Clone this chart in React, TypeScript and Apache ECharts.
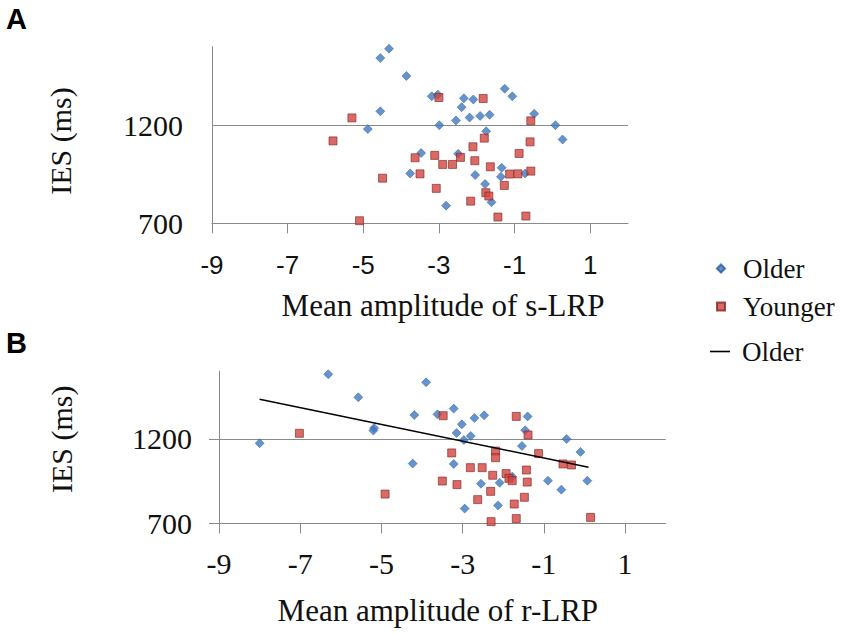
import React, { useEffect, useRef } from 'react';
import * as echarts from 'echarts';

// Tick values
const xTicks = [-9, -7, -5, -3, -1, 1];
const yTicks = [700, 1200];

// Panel A (s-LRP)
const sOlderX = [-4.32, -4.55, -3.86, -3.19, -3.03, -2.34, -2.09, -2.40, -4.55, -2.55, -2.19, -1.91, -1.66, -1.26, -1.06, -0.48, 0.08, 0.27, -4.88, -2.99, -1.75, -3.47, -2.49, -3.76, -2.04, -1.34, -1.36, -0.72, -1.78, -1.61, -2.81];
const sOlderY = [1590, 1542, 1451, 1347, 1356, 1337, 1331, 1292, 1271, 1224, 1239, 1247, 1253, 1386, 1347, 1258, 1200, 1127, 1180, 1200, 1169, 1058, 1054, 954, 946, 983, 937, 954, 900, 807, 790];
const sYoungerX = [-5.30, -5.80, -4.49, -5.10, -3.00, -1.83, -0.57, -1.80, -0.59, -2.10, -3.63, -3.11, -2.43, -0.88, -2.90, -2.64, -2.05, -1.64, -3.50, -1.13, -0.91, -0.57, -3.07, -1.27, -1.76, -1.68, -2.16, -1.44, -0.70];
const sYoungerY = [1237, 1120, 930, 713, 1341, 1336, 1222, 1134, 1115, 1090, 1034, 1046, 1036, 1056, 1000, 1000, 1019, 988, 952, 951, 952, 966, 878, 893, 856, 839, 813, 732, 737];

// Panel B (r-LRP)
const rOlderX = [-6.31, -3.90, -5.57, -4.19, -3.62, -3.22, -2.71, -2.47, -1.40, -3.02, -5.18, -5.20, -3.15, -2.80, -2.97, -1.46, -8.00, -1.54, -0.44, -0.10, -4.23, -3.22, -1.78, -2.55, -2.09, -0.90, 0.07, -0.57, -2.13, -2.95];
const rOlderY = [1582, 1534, 1446, 1341, 1345, 1379, 1323, 1339, 1333, 1286, 1264, 1249, 1235, 1217, 1193, 1251, 1174, 1158, 1199, 1123, 1054, 1052, 977, 935, 941, 953, 953, 900, 807, 788];
const rYoungerX = [-7.02, -4.91, -3.48, -1.68, -1.39, -3.27, -2.19, -2.19, -1.13, -0.53, -0.32, -2.81, -2.52, -1.43, -2.26, -1.93, -1.86, -1.78, -3.50, -3.14, -1.41, -2.31, -1.48, -2.63, -1.73, -2.30, -1.68, 0.15];
const rYoungerY = [1233, 874, 1337, 1333, 1223, 1117, 1128, 1089, 1113, 1052, 1046, 1030, 1030, 1016, 985, 995, 967, 953, 951, 930, 945, 890, 855, 841, 815, 711, 729, 736];

// Older trend line (panel B) endpoints
const trendX = [-8.0, 0.1];
const trendY = [1434, 1033];

const zip = (xs: number[], ys: number[]) => xs.map((x, i) => [x, ys[i]]);

const SERIF = '"Liberation Serif", "Times New Roman", serif';
const SANS = '"Liberation Sans", Arial, sans-serif';
const AXIS_COLOR = '#8a8a8a';
const BLUE = '#3F78C0';
const BLUE_BORDER = '#2A5A98';
const RED = '#D2433F';
const RED_BORDER = '#7E2522';

export default function App() {
  const ref = useRef<HTMLDivElement>(null);

  useEffect(() => {
    document.body.style.margin = '0';
    if (!ref.current) return;
    const chart = echarts.init(ref.current, undefined, { renderer: 'svg' });

    const plain = (v: number) => String(v);

    const makeX = (gridIndex: number, name: string, labelFont: string, labelSize: number, margin: number, nameGap: number, namePad: number[], nameSize: number) => ({
      gridIndex,
      type: 'value',
      min: -9,
      max: 2,
      name,
      nameLocation: 'middle',
      nameGap,
      nameTextStyle: { fontFamily: SERIF, fontSize: nameSize, color: '#111', padding: namePad },
      axisLine: { show: true, onZero: false, lineStyle: { color: AXIS_COLOR, width: 1 } },
      axisTick: { show: true, length: 10, customValues: xTicks, lineStyle: { color: AXIS_COLOR } },
      axisLabel: { customValues: xTicks, formatter: plain, margin, fontFamily: labelFont, fontSize: labelSize, color: '#111' },
      splitLine: { show: false },
    });

    const makeY = (gridIndex: number, tickShow: boolean, margin: number, nameGap: number, namePad: number[]) => ({
      gridIndex,
      type: 'value',
      min: 700,
      max: 1600,
      name: 'IES (ms)',
      nameLocation: 'middle',
      nameRotate: 90,
      nameGap,
      nameTextStyle: { fontFamily: SERIF, fontSize: 30, color: '#111', padding: namePad },
      axisLine: { show: true, onZero: false, lineStyle: { color: AXIS_COLOR, width: 1 } },
      axisTick: { show: tickShow, length: 10, customValues: yTicks, lineStyle: { color: AXIS_COLOR } },
      axisLabel: { customValues: yTicks, formatter: plain, margin, fontFamily: SERIF, fontSize: 30, color: '#111' },
      splitLine: { show: true, lineStyle: { color: AXIS_COLOR, width: 1 } },
    });

    const olderStyle = { color: BLUE, borderColor: BLUE_BORDER, borderWidth: 0.6 };
    const youngerStyle = { color: RED, borderColor: RED_BORDER, borderWidth: 0.8 };

    const option = {
      animation: false,
      backgroundColor: '#ffffff',
      title: [
        { text: 'A', left: 6, top: 4, padding: 0, textStyle: { fontFamily: SANS, fontWeight: 'bold', fontSize: 29, color: '#000' } },
        { text: 'B', left: 6, top: 328, padding: 0, textStyle: { fontFamily: SANS, fontWeight: 'bold', fontSize: 29, color: '#000' } },
      ],
      grid: [
        { left: 212, top: 46.7, width: 416, height: 176.6 },
        { left: 219, top: 371.2, width: 446.7, height: 152.3 },
      ],
      xAxis: [
        makeX(0, 'Mean amplitude of s-LRP', SANS, 26, 29, 67, [0, 0, 0, 46], 31),
        makeX(1, 'Mean amplitude of r-LRP', SERIF, 30, 25, 71, [0, 9, 0, 0], 31),
      ],
      yAxis: [
        makeY(0, false, 29, 137, [0, 12, 0, 0]),
        makeY(1, true, 27, 143, [0, 0, 0, 16]),
      ],
      legend: [
        {
          data: [{ name: 'Older', icon: 'diamond' }],
          left: 716, top: 255, padding: 0, orient: 'vertical', selectedMode: false,
          itemWidth: 8, itemHeight: 8,
          textStyle: { fontFamily: SERIF, fontSize: 27, color: '#111', padding: [0, 0, 0, 13] },
        },
        {
          data: [{ name: 'Younger', icon: 'rect' }],
          left: 716, top: 293, padding: 0, orient: 'vertical', selectedMode: false,
          itemWidth: 8, itemHeight: 8,
          textStyle: { fontFamily: SERIF, fontSize: 27, color: '#111', padding: [0, 0, 0, 13] },
        },
        {
          data: [{ name: 'Older trend', icon: 'rect' }],
          formatter: () => 'Older',
          left: 710, top: 338, padding: 0, orient: 'vertical', selectedMode: false,
          itemWidth: 20, itemHeight: 1.6,
          itemStyle: { color: '#000' },
          textStyle: { fontFamily: SERIF, fontSize: 27, color: '#111', padding: [0, 0, 0, 7] },
        },
      ],
      series: [
        { name: 'Older', type: 'scatter', xAxisIndex: 0, yAxisIndex: 0, symbol: 'diamond', symbolSize: 9, itemStyle: olderStyle, data: zip(sOlderX, sOlderY) },
        { name: 'Younger', type: 'scatter', xAxisIndex: 0, yAxisIndex: 0, symbol: 'rect', symbolSize: 8, itemStyle: youngerStyle, data: zip(sYoungerX, sYoungerY) },
        { name: 'Older', type: 'scatter', xAxisIndex: 1, yAxisIndex: 1, symbol: 'diamond', symbolSize: 9, itemStyle: olderStyle, data: zip(rOlderX, rOlderY) },
        { name: 'Younger', type: 'scatter', xAxisIndex: 1, yAxisIndex: 1, symbol: 'rect', symbolSize: 8, itemStyle: youngerStyle, data: zip(rYoungerX, rYoungerY) },
        {
          name: 'Older trend', type: 'line', xAxisIndex: 1, yAxisIndex: 1, symbol: 'none', silent: true,
          lineStyle: { color: '#000', width: 1.5 }, itemStyle: { color: '#000' },
          data: zip(trendX, trendY), z: 5,
        },
      ],
    };

    chart.setOption(option as any);
    return () => chart.dispose();
  }, []);

  return <div ref={ref} style={{ width: 851, height: 635, position: 'absolute', left: 0, top: 0 }} />;
}
